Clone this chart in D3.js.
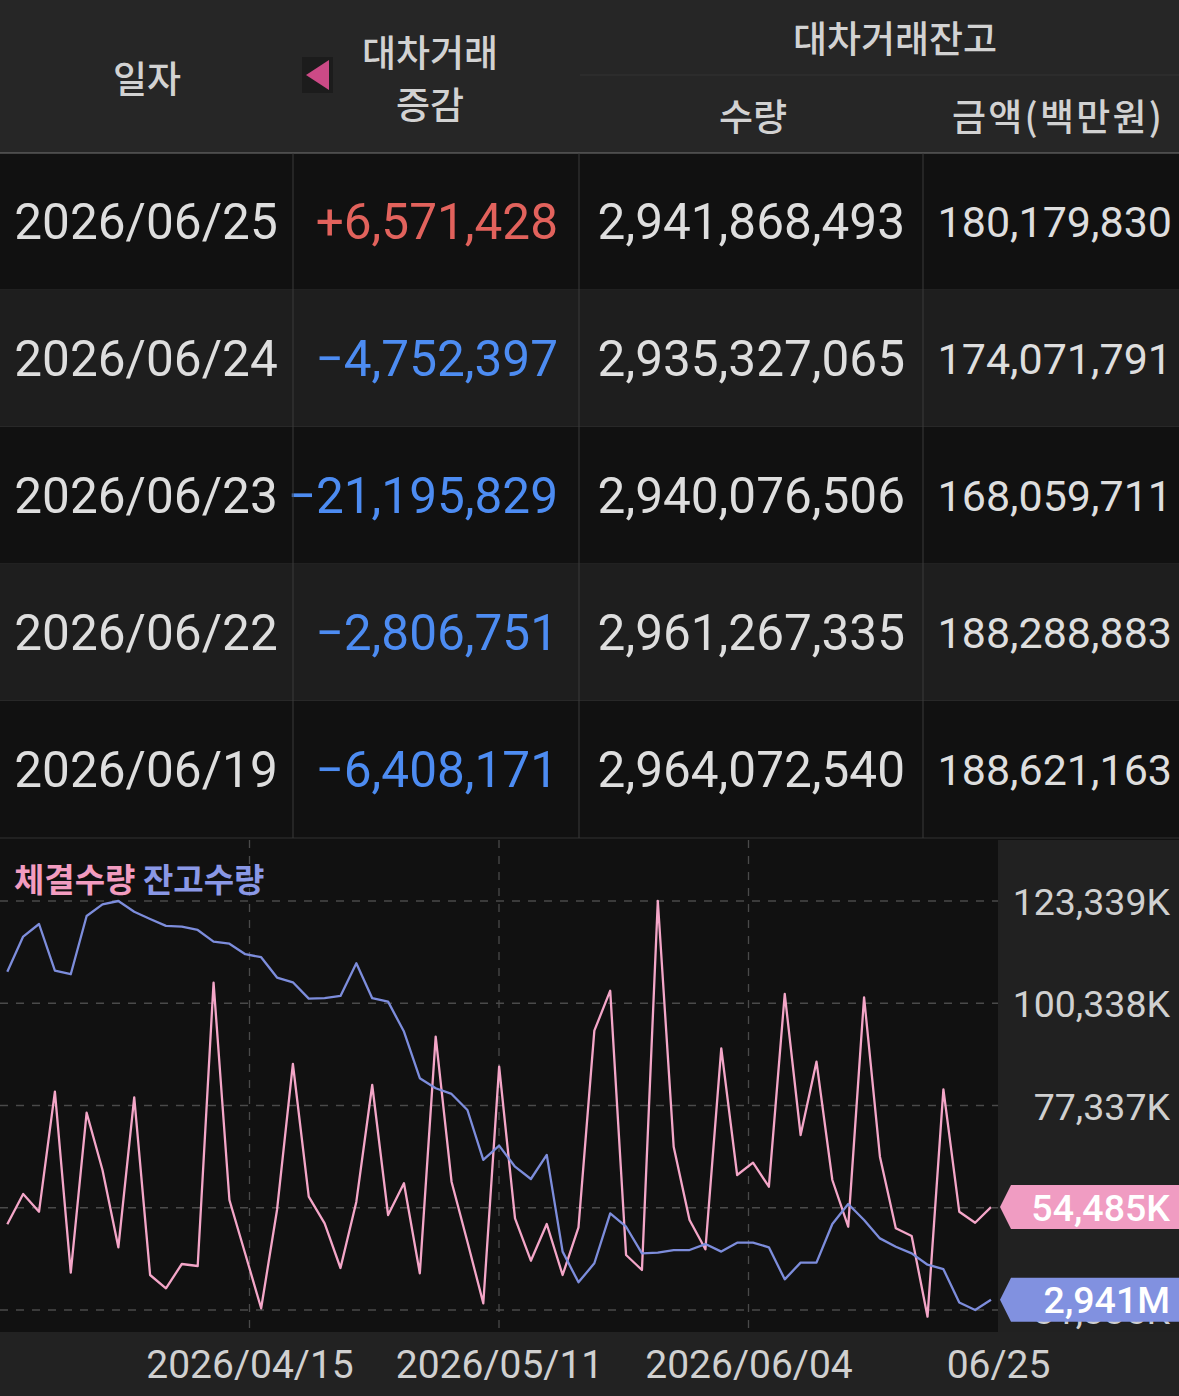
<!DOCTYPE html>
<html>
<head>
<meta charset="utf-8">
<script src="https://cdn.jsdelivr.net/npm/d3@7"></script>
<style>
body { margin: 0; background: #111; }
svg { display: block; }
</style>
</head>
<body>
<svg id="screen" width="1179" height="1396"></svg>
<script>
// table rows (latest first)
var rowDates = ["2026/06/25", "2026/06/24", "2026/06/23", "2026/06/22", "2026/06/19"];
var rowChange = [6571428, -4752397, -21195829, -2806751, -6408171];
var rowBalQty = [2941868493, 2935327065, 2940076506, 2961267335, 2964072540];
var rowBalAmt = [180179830, 174071791, 168059711, 188288883, 188621163];

// chart series, oldest -> newest (63 trading days)
// 체결수량, thousands of shares
var volumeK = [50613, 57429, 53448, 80442, 39726, 75718, 62828, 45439, 79182, 39208,
  36216, 41683, 41233, 104961, 56080, 43932, 31717, 53830, 86673, 56822,
  50838, 40783, 55697, 81949, 52705, 59836, 39591, 92814, 60196, 46699,
  32842, 86065, 51963, 42425, 50681, 39208, 49938, 94164, 103162, 43707,
  40333, 123339, 68069, 51581, 44989, 90204, 61703, 64470, 59071, 102419,
  70701, 87190, 60579, 50073, 101677, 65820, 49713, 47981, 29828, 80981,
  53448, 50973, 54485];
// 잔고수량, millions of shares
var balanceM = [3150.1, 3172.4, 3180.4, 3150.8, 3148.5, 3185.5, 3192.9, 3195.0, 3188.2, 3183.6,
  3179.2, 3178.7, 3176.6, 3169.2, 3167.9, 3161.2, 3159.3, 3146.4, 3143.4, 3133.0,
  3133.3, 3134.7, 3155.5, 3133.3, 3131.1, 3112.1, 3082.5, 3076.1, 3072.5, 3062.3,
  3030.6, 3039.7, 3026.3, 3018.5, 3033.8, 2972.4, 2952.9, 2965.0, 2996.7, 2988.2,
  2971.3, 2971.7, 2973.4, 2973.4, 2977.2, 2972.4, 2978.1, 2978.1, 2975.1, 2954.8,
  2965.4, 2965.4, 2989.9, 3002.6, 2992.5, 2980.8, 2975.5, 2971.3, 2964.07, 2961.27,
  2940.08, 2935.33, 2941.87];

var xTickLabels = ["2026/04/15", "2026/05/11", "2026/06/04", "06/25"];
var yTicks = [123339, 100338, 77337, 54336, 31335];

var KR = '"Noto Sans CJK KR", "Noto Sans", sans-serif';
var NUM = 'Roboto, "Noto Sans", sans-serif';

var svg = d3.select("#screen");
var W = 1179;

// ---------- table ----------
var headH = 153, rowH = 137;
var colX = [293, 579, 923];

svg.append("rect").attr("width", W).attr("height", headH).attr("fill", "#262626");

var head = svg.append("g").attr("font-family", KR).attr("font-size", 37).attr("font-weight", 500)
  .attr("fill", "#d2d2d2").attr("text-anchor", "middle");
head.append("text").attr("x", 147).attr("y", 79).attr("dy", "0.37em").text("일자");
head.append("text").attr("x", 430).attr("y", 53).attr("dy", "0.37em").text("대차거래");
head.append("text").attr("x", 430).attr("y", 105).attr("dy", "0.37em").text("증감");
head.append("text").attr("x", 895).attr("y", 39).attr("dy", "0.37em").text("대차거래잔고");
head.append("text").attr("x", 753).attr("y", 117).attr("dy", "0.37em").text("수량");
head.append("text").attr("x", 1057).attr("y", 117).attr("dy", "0.37em")
  .attr("textLength", 210).attr("lengthAdjust", "spacing").text("금액(백만원)");

svg.append("line").attr("x1", 580).attr("x2", W).attr("y1", 75).attr("y2", 75)
  .attr("stroke", "#333");

// sort marker
svg.append("rect").attr("x", 302).attr("y", 57).attr("width", 31).attr("height", 36)
  .attr("fill", "#1c1c1c");
svg.append("path").attr("d", "M306,75L329,60L329,90Z").attr("fill", "#cc4a86");

var rows = svg.append("g");
rowDates.forEach(function (d, i) {
  var y0 = headH + i * rowH, cy = y0 + rowH / 2;
  rows.append("rect").attr("x", 0).attr("y", y0).attr("width", W).attr("height", rowH)
    .attr("fill", i % 2 ? "#1e1e1e" : "#111111");
  rows.append("line").attr("x1", 0).attr("x2", W).attr("y1", y0 + rowH).attr("y2", y0 + rowH)
    .attr("stroke", "#333");

  var t = rows.append("g").attr("font-family", NUM).attr("font-size", 49.5).attr("fill", "#dedede");
  t.append("text").attr("x", 146).attr("y", cy).attr("dy", "0.36em")
    .attr("text-anchor", "middle").text(d);
  var c = rowChange[i];
  t.append("text").attr("x", 558).attr("y", cy).attr("dy", "0.36em")
    .attr("text-anchor", "end").attr("fill", c > 0 ? "#e2625c" : "#4d8cf2")
    .text((c > 0 ? "+" : "\u2212") + d3.format(",")(Math.abs(c)));
  t.append("text").attr("x", 905).attr("y", cy).attr("dy", "0.36em")
    .attr("text-anchor", "end").text(d3.format(",")(rowBalQty[i]));
  t.append("text").attr("x", 1172).attr("y", cy).attr("dy", "0.36em")
    .attr("text-anchor", "end").attr("font-size", 43).text(d3.format(",")(rowBalAmt[i]));
});
svg.append("line").attr("x1", 0).attr("x2", W).attr("y1", headH).attr("y2", headH)
  .attr("stroke", "#777");
colX.forEach(function (x) {
  svg.append("line").attr("x1", x).attr("x2", x).attr("y1", headH)
    .attr("y2", headH + rowDates.length * rowH).attr("stroke", "#3a3a3a");
});

// ---------- chart ----------
var chartTop = 840, plotW = 998, plotH = 492;
svg.append("rect").attr("x", 0).attr("y", chartTop).attr("width", plotW).attr("height", plotH)
  .attr("fill", "#111");
svg.append("rect").attr("x", plotW).attr("y", chartTop).attr("width", W - plotW).attr("height", plotH)
  .attr("fill", "#212121");
svg.append("rect").attr("x", 0).attr("y", chartTop + plotH).attr("width", W)
  .attr("height", 1396 - chartTop - plotH).attr("fill", "#222");

var g = svg.append("g").attr("transform", "translate(0," + chartTop + ")");

var x = d3.scaleLinear().domain([0, volumeK.length - 1]).range([7.3, 991]);
var xq = d3.scaleLinear().domain([0, 4]).range([0, plotW]);
var yP = d3.scaleLinear().domain([31335, 123339]).range([470, 61]);
var yB = d3.scaleLinear().domain([2935.33, 3195.0]).range([470, 61]);

// grid
g.selectAll(".hgrid").data(yTicks).enter().append("line")
  .attr("x1", 0).attr("x2", plotW)
  .attr("y1", function (d) { return yP(d); }).attr("y2", function (d) { return yP(d); })
  .attr("stroke", "#4a4a4a").attr("stroke-width", 1.3).attr("stroke-dasharray", "8,8");
g.selectAll(".vgrid").data([1, 2, 3]).enter().append("line")
  .attr("x1", function (d) { return xq(d); }).attr("x2", function (d) { return xq(d); })
  .attr("y1", 0).attr("y2", plotH)
  .attr("stroke", "#4a4a4a").attr("stroke-width", 1.3).attr("stroke-dasharray", "8,8");

var pinkLine = d3.line().x(function (d, i) { return x(i); }).y(function (d) { return yP(d); });
var blueLine = d3.line().x(function (d, i) { return x(i); }).y(function (d) { return yB(d); });

g.append("path").attr("d", pinkLine(volumeK)).attr("fill", "none")
  .attr("stroke", "#f4a6c8").attr("stroke-width", 2.3).attr("stroke-linejoin", "round");
g.append("path").attr("d", blueLine(balanceM)).attr("fill", "none")
  .attr("stroke", "#7d8ddc").attr("stroke-width", 2.3).attr("stroke-linejoin", "round");

// legend
var lg = g.append("text").attr("x", 14).attr("y", 40).attr("dy", "0.37em")
  .attr("font-family", KR).attr("font-size", 33).attr("font-weight", 700);
lg.append("tspan").attr("fill", "#f29cc0").text("체결수량 ");
lg.append("tspan").attr("fill", "#8a98e6").text("잔고수량");

// right axis
var yAxis = d3.axisRight(yP).tickValues(yTicks).tickSize(0)
  .tickFormat(function (d) { return d3.format(",")(d) + "K"; });
g.append("g").attr("transform", "translate(" + plotW + ",0)").call(yAxis)
  .call(function (a) { a.select(".domain").remove(); })
  .selectAll("text").attr("x", W - plotW - 9).attr("dy", "0.36em")
  .attr("text-anchor", "end").attr("font-family", NUM).attr("font-size", 37.5)
  .attr("fill", "#d0d0d0");

// last value tags
function tag(yv, fill, label) {
  var h = 44;
  g.append("path")
    .attr("d", "M" + (plotW + 2) + "," + yv + "L" + (plotW + 13) + "," + (yv - h / 2) +
      "H" + W + "V" + (yv + h / 2) + "H" + (plotW + 13) + "Z")
    .attr("fill", fill);
  g.append("text").attr("x", W - 9).attr("y", yv).attr("dy", "0.36em")
    .attr("text-anchor", "end").attr("font-family", NUM).attr("font-size", 37.5)
    .attr("font-weight", 500).attr("fill", "#fff").text(label);
}
var lastP = volumeK[volumeK.length - 1], lastB = balanceM[balanceM.length - 1];
tag(yP(lastP), "#f09cc2", d3.format(",")(lastP) + "K");
tag(yB(lastB), "#8191e0", d3.format(",")(Math.floor(lastB)) + "M");

// bottom axis
var xAxis = d3.axisBottom(xq).tickValues([1, 2, 3, 4]).tickSize(0)
  .tickFormat(function (d, i) { return xTickLabels[i]; });
g.append("g").attr("transform", "translate(0," + plotH + ")").call(xAxis)
  .call(function (a) { a.select(".domain").remove(); })
  .selectAll("text").attr("y", 32).attr("dy", "0.36em")
  .attr("font-family", NUM).attr("font-size", 39).attr("fill", "#d0d0d0");
</script>
</body>
</html>
